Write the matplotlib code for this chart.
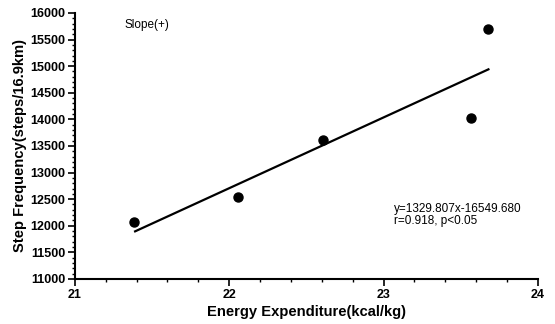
import numpy as np
import matplotlib
matplotlib.use("Agg")
import matplotlib.pyplot as plt
from matplotlib.ticker import MultipleLocator

plt.rcParams['font.family'] = ['Liberation Sans', 'DejaVu Sans']

# energy expenditure (kcal/kg) vs step frequency (steps/16.9km), uphill course
energy = [21.38, 22.06, 22.61, 23.57, 23.68]
steps = [12075, 12545, 13610, 14030, 15700]

slope, intercept = 1329.807, -16549.680
fit_x = np.array([21.39, 23.68])
fit_y = slope * fit_x + intercept

fig = plt.figure(figsize=(5.55, 3.24), dpi=100)
ax = fig.add_axes([0.135, 0.139, 0.834, 0.821])

ax.plot(energy, steps, 'o', color='black', markersize=6.5)
ax.plot(fit_x, fit_y, color='black', linewidth=1.6)

ax.set_xlim(21, 24)
ax.set_ylim(11000, 16000)
ax.xaxis.set_major_locator(MultipleLocator(1))
ax.xaxis.set_minor_locator(MultipleLocator(0.2))
ax.yaxis.set_major_locator(MultipleLocator(500))
ax.yaxis.set_minor_locator(MultipleLocator(100))

for side in ['top', 'right']:
    ax.spines[side].set_visible(False)
for side in ['left', 'bottom']:
    ax.spines[side].set_linewidth(1.5)

ax.tick_params(which='major', length=5, width=1.2, labelsize=9, pad=2)
ax.tick_params(which='minor', length=2.5, width=1)
for lab in ax.get_xticklabels() + ax.get_yticklabels():
    lab.set_fontweight('bold')

ax.set_xlabel('Energy Expenditure(kcal/kg)', fontsize=10.6, fontweight='bold', labelpad=3)
ax.set_ylabel('Step Frequency(steps/16.9km)', fontsize=10.6, fontweight='bold', labelpad=2)

ax.text(21.32, 15770, 'Slope(+)', fontsize=8.5, va='center')
ax.text(23.07, 12420, 'y=1329.807x-16549.680\nr=0.918, p<0.05',
        fontsize=8.5, va='top', linespacing=1.0)

fig.savefig('out.png', dpi=100)
